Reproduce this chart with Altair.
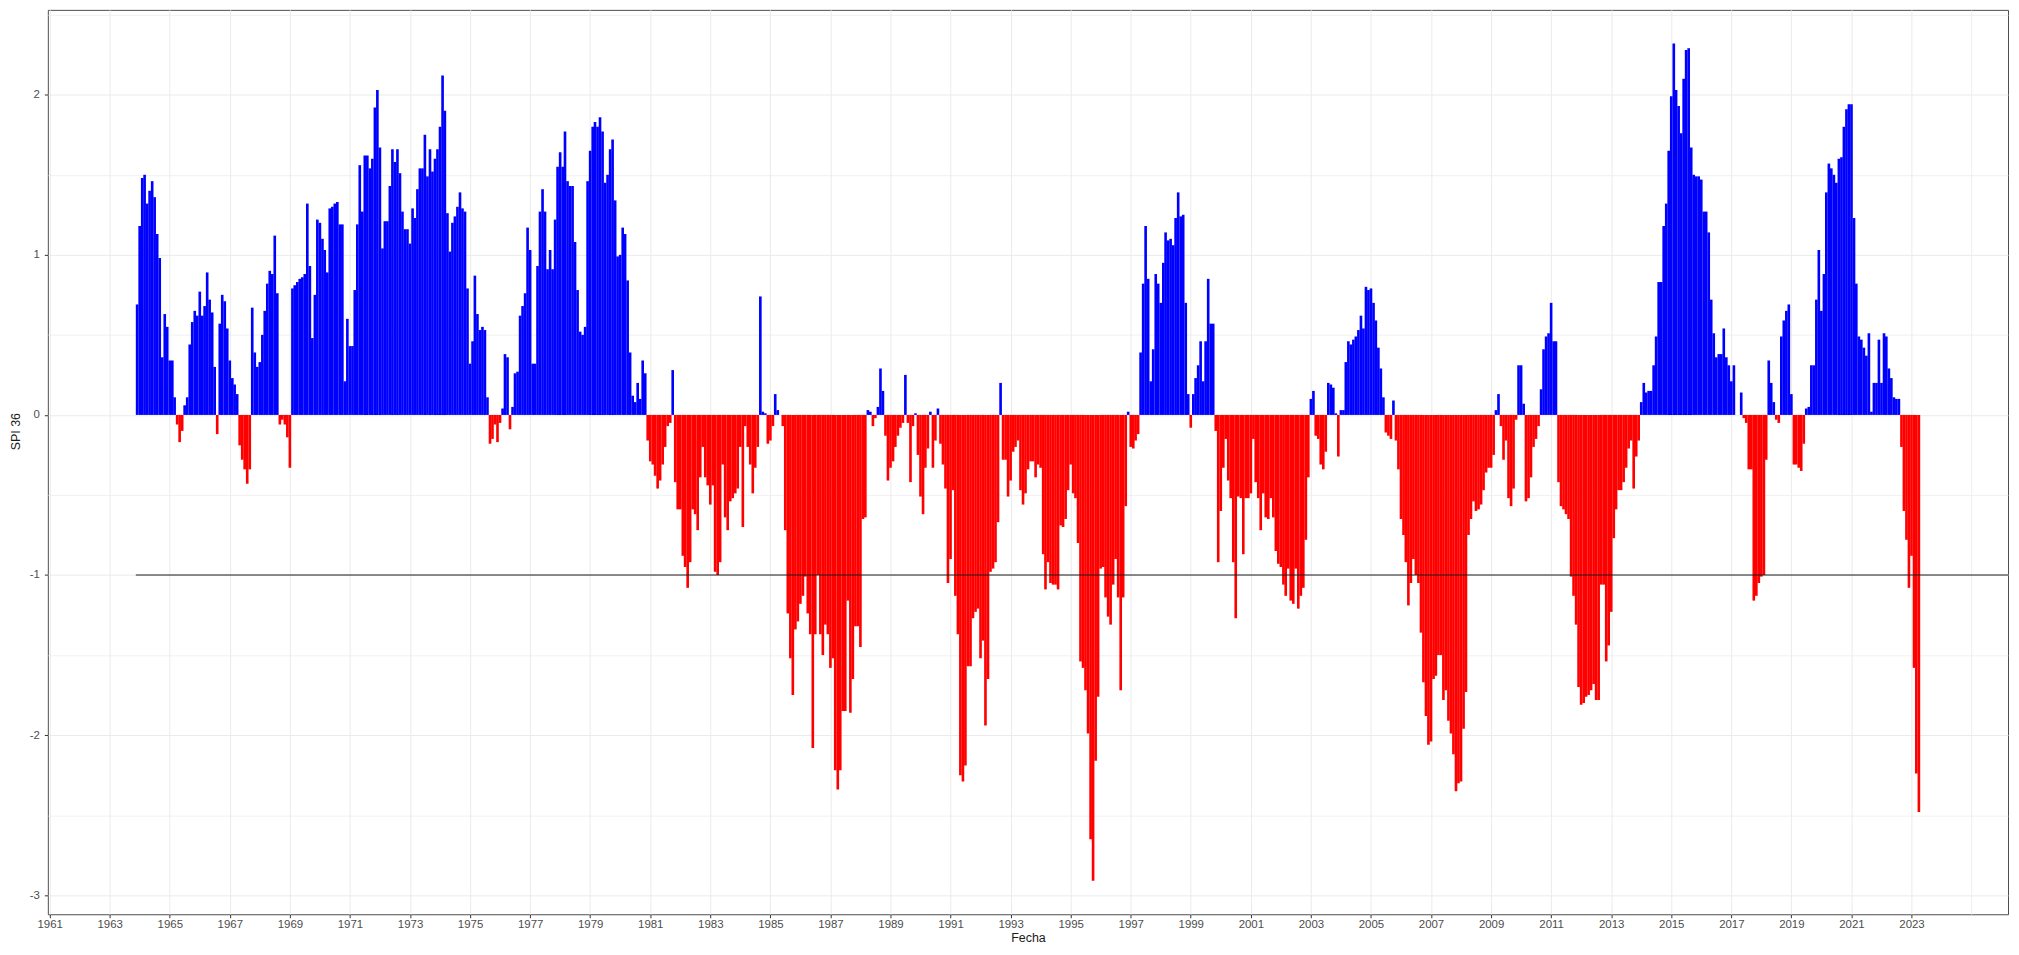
import altair as alt
import pandas as pd

# SPI-36 monthly values (Dec 1963 .. Apr 2023)
spi_1960s = [
    0.69,
    1.18, 1.48, 1.50, 1.32, 1.40, 1.46, 1.36, 1.13, 0.98, 0.36, 0.63, 0.55,
    0.34, 0.34, 0.11, -0.06, -0.17, -0.10, 0.06, 0.11, 0.44, 0.58, 0.65, 0.62,
    0.77, 0.62, 0.68, 0.89, 0.72, 0.64, 0.30, -0.12, 0.57, 0.75, 0.71, 0.54,
    0.34, 0.23, 0.19, 0.13, -0.19, -0.28, -0.34, -0.43, -0.34, 0.67, 0.39, 0.30,
    0.33, 0.50, 0.65, 0.82, 0.90, 0.88, 1.12, 0.76, -0.06, -0.03, -0.06, -0.14,
    -0.33, 0.79, 0.81, 0.83, 0.85, 0.86, 0.88, 1.32, 0.93, 0.48, 0.75, 1.22,
]
spi_1970s = [
    1.20, 1.10, 1.03, 0.89, 1.29, 1.30, 1.32, 1.33, 1.19, 1.19, 0.21, 0.60,
    0.43, 0.43, 0.78, 1.19, 1.56, 1.27, 1.62, 1.62, 1.54, 1.60, 1.92, 2.03,
    1.67, 1.04, 1.21, 1.21, 1.43, 1.66, 1.58, 1.66, 1.51, 1.27, 1.16, 1.16,
    1.07, 1.29, 1.23, 1.41, 1.54, 1.54, 1.75, 1.49, 1.66, 1.52, 1.60, 1.66,
    1.80, 2.12, 1.90, 1.26, 1.02, 1.20, 1.24, 1.30, 1.39, 1.29, 1.27, 0.79,
    0.32, 0.46, 0.87, 0.63, 0.53, 0.55, 0.53, 0.11, -0.18, -0.15, -0.06, -0.17,
    -0.05, 0.04, 0.38, 0.36, -0.09, 0.05, 0.26, 0.27, 0.62, 0.68, 0.76, 1.17,
    1.03, 0.32, 0.32, 0.93, 1.27, 1.41, 1.27, 0.91, 1.03, 0.91, 1.22, 1.55,
    1.64, 1.55, 1.77, 1.46, 1.43, 1.43, 1.08, 0.78, 0.52, 0.50, 0.55, 1.46,
    1.65, 1.80, 1.83, 1.80, 1.86, 1.77, 1.45, 1.50, 1.66, 1.72, 1.34, 0.99,
]
spi_1980s = [
    1.00, 1.17, 1.13, 0.84, 0.39, 0.12, 0.08, 0.20, 0.10, 0.34, 0.26, -0.16,
    -0.29, -0.31, -0.38, -0.46, -0.41, -0.31, -0.20, -0.07, -0.05, 0.28, -0.42, -0.59,
    -0.59, -0.88, -0.95, -1.08, -0.92, -0.59, -0.62, -0.72, -0.39, -0.20, -0.39, -0.44,
    -0.56, -0.44, -0.98, -1.00, -0.92, -0.31, -0.64, -0.72, -0.54, -0.52, -0.49, -0.46,
    -0.20, -0.70, -0.07, -0.20, -0.31, -0.49, -0.33, -0.20, 0.74, 0.02, 0.01, -0.18,
    -0.16, -0.07, 0.13, 0.03, 0.00, -0.07, -0.72, -1.24, -1.52, -1.75, -1.34, -1.29,
    -1.18, -1.13, -1.01, -1.24, -1.37, -2.08, -1.37, -1.00, -1.37, -1.50, -1.31, -1.37,
    -1.58, -1.52, -2.22, -2.34, -2.22, -1.85, -1.85, -1.16, -1.86, -1.65, -1.32, -1.32,
    -1.45, -0.65, -0.64, 0.03, 0.02, -0.07, -0.02, 0.05, 0.29, 0.15, -0.13, -0.41,
    -0.33, -0.29, -0.20, -0.13, -0.08, -0.05, 0.25, -0.05, -0.42, -0.07, 0.01, -0.25,
]
spi_1990s = [
    -0.51, -0.62, -0.33, -0.21, 0.02, -0.33, -0.16, 0.04, -0.18, -0.31, -0.46, -1.05,
    -0.90, -0.47, -1.13, -1.37, -2.25, -2.29, -2.19, -1.57, -1.57, -1.27, -1.23, -1.21,
    -1.52, -1.41, -1.94, -1.65, -0.98, -0.96, -0.92, -0.67, 0.20, -0.28, -0.28, -0.51,
    -0.41, -0.23, -0.20, -0.16, -0.47, -0.56, -0.49, -0.34, -0.29, -0.29, -0.39, -0.31,
    -0.33, -0.87, -1.09, -0.92, -1.05, -1.06, -1.06, -1.09, -0.69, -0.70, -0.65, -0.47,
    -0.31, -0.49, -0.52, -0.80, -1.54, -1.58, -1.72, -1.99, -2.65, -2.91, -2.16, -1.76,
    -0.96, -0.95, -1.14, -1.26, -1.31, -1.06, -0.90, -1.14, -1.72, -1.14, -0.57, 0.02,
    -0.20, -0.21, -0.16, -0.12, 0.39, 0.82, 1.18, 0.85, 0.21, 0.41, 0.88, 0.82,
    0.70, 0.95, 1.14, 1.09, 1.10, 1.06, 1.23, 1.39, 1.24, 1.25, 0.70, 0.13,
    -0.08, 0.13, 0.23, 0.31, 0.46, 0.21, 0.46, 0.85, 0.57, 0.57, -0.10, -0.92,
]
spi_2000s = [
    -0.60, -0.33, -0.15, -0.41, -0.52, -0.92, -1.27, -0.51, -0.52, -0.87, -0.52, -0.52,
    -0.49, -0.15, -0.42, -0.52, -0.72, -0.49, -0.64, -0.65, -0.52, -0.64, -0.85, -0.93,
    -0.95, -1.06, -1.13, -0.96, -1.16, -1.18, -0.96, -1.21, -1.13, -1.08, -0.78, -0.39,
    0.10, 0.15, -0.13, -0.15, -0.31, -0.34, -0.23, 0.20, 0.19, 0.17, 0.01, -0.26,
    0.03, 0.03, 0.33, 0.46, 0.44, 0.47, 0.49, 0.53, 0.62, 0.54, 0.80, 0.78,
    0.79, 0.70, 0.59, 0.42, 0.29, 0.11, -0.11, -0.13, -0.15, 0.09, -0.16, -0.34,
    -0.65, -0.75, -0.92, -1.19, -1.05, -0.90, -1.00, -1.05, -1.36, -1.67, -1.88, -2.06,
    -2.04, -1.65, -1.63, -1.50, -1.50, -1.78, -1.72, -1.91, -1.99, -2.12, -2.35, -2.30,
    -2.29, -1.96, -1.73, -0.75, -0.65, -0.54, -0.60, -0.59, -0.56, -0.47, -0.36, -0.33,
    -0.33, -0.25, 0.03, 0.13, -0.07, -0.28, -0.16, -0.52, -0.57, -0.46, -0.03, 0.31,
]
spi_2010s = [
    0.31, 0.07, -0.54, -0.52, -0.39, -0.20, -0.15, -0.07, 0.16, 0.41, 0.49, 0.51,
    0.70, 0.46, 0.46, -0.42, -0.57, -0.59, -0.62, -0.65, -1.01, -1.13, -1.31, -1.70,
    -1.81, -1.80, -1.76, -1.75, -1.72, -1.68, -1.78, -1.78, -1.06, -1.06, -1.54, -1.44,
    -1.23, -0.77, -0.59, -0.47, -0.47, -0.42, -0.33, -0.21, -0.16, -0.46, -0.26, -0.16,
    0.08, 0.20, 0.14, 0.15, 0.15, 0.31, 0.49, 0.83, 0.83, 1.18, 1.32, 1.65,
    1.99, 2.32, 2.03, 1.93, 1.76, 2.10, 2.28, 2.29, 1.67, 1.50, 1.49, 1.49,
    1.47, 1.27, 1.27, 1.14, 0.72, 0.51, 0.36, 0.38, 0.38, 0.54, 0.36, 0.31,
    0.21, 0.31, 0.00, 0.00, 0.14, -0.02, -0.05, -0.34, -0.34, -1.16, -1.13, -1.05,
    -1.01, -1.00, -0.28, 0.34, 0.20, 0.08, -0.03, -0.05, 0.49, 0.59, 0.65, 0.69,
    0.13, -0.31, -0.31, -0.33, -0.35, -0.18, 0.04, 0.05, 0.31, 0.31, 0.72, 1.03,
]
spi_2020s = [
    0.65, 0.88, 1.39, 1.57, 1.54, 1.50, 1.45, 1.60, 1.61, 1.80, 1.91, 1.94,
    1.94, 1.23, 0.82, 0.49, 0.47, 0.42, 0.37, 0.51, 0.02, 0.20, 0.20, 0.47,
    0.20, 0.51, 0.49, 0.29, 0.23, 0.11, 0.10, 0.10, -0.20, -0.60, -0.78, -1.08,
    -0.88, -1.58, -2.24, -2.48,
]

first_month = "1963-12-01"
threshold = -1.0
grid_years = list(range(1961, 2027))        # one grid line per year
label_years_last = 2023                     # labelled (odd) years stop here
y_ticks = [-3.0, -2.5, -2.0, -1.5, -1.0, -0.5, 0.0, 0.5, 1.0, 1.5, 2.0, 2.5]

spi = spi_1960s + spi_1970s + spi_1980s + spi_1990s + spi_2000s + spi_2010s + spi_2020s
fechas = pd.date_range(first_month, periods=len(spi), freq="MS")
df = pd.DataFrame({
    "fecha": fechas,
    "inicio": fechas - pd.Timedelta(days=16),
    "fin": fechas + pd.Timedelta(days=16),
    "spi": spi,
})
df["signo"] = ["pos" if v >= 0 else "neg" for v in spi]

linea = pd.DataFrame({
    "inicio": [df["inicio"].min()],
    "fin": [pd.Timestamp("2026-03-20")],
    "nivel": [threshold],
})

x_scale = alt.Scale(domain=[alt.DateTime(year=1960, month=12, date=10),
                            alt.DateTime(year=2026, month=3, date=20)])
y_scale = alt.Scale(domain=[-3.119, 2.53], nice=False, zero=False)

major_x = f"(year(datum.value) % 2 == 1) && (year(datum.value) <= {label_years_last})"
major_y = "datum.value % 1 == 0"

x_axis = alt.Axis(
    values=[alt.DateTime(year=y, month=1, date=1) for y in grid_years],
    labelExpr=f"{major_x} ? timeFormat(datum.value, '%Y') : ''",
    tickOpacity={"condition": {"test": major_x, "value": 1}, "value": 0},
    gridOpacity={"condition": {"test": major_x, "value": 1}, "value": 0.75},
    labelOverlap=False, labelFlush=False, labelPadding=1,
    title="Fecha", titleY=27.8, titleBaseline="alphabetic", titleAnchor="middle",
)
y_axis = alt.Axis(
    values=y_ticks,
    labelExpr=f"{major_y} ? '' + datum.value : ''",
    tickOpacity={"condition": {"test": major_y, "value": 1}, "value": 0},
    gridOpacity={"condition": {"test": major_y, "value": 1}, "value": 0.75},
    labelOverlap=False, labelFlush=False, labelPadding=5,
    title="SPI 36", titleX=-32, titleY=423, titleAngle=-90,
    titleBaseline="middle", titleAlign="center",
)

bars = alt.Chart(df).mark_bar(stroke=None).encode(
    x=alt.X("inicio:T", scale=x_scale, axis=x_axis),
    x2="fin:T",
    y=alt.Y("spi:Q", scale=y_scale, axis=y_axis),
    y2=alt.datum(0),
    color=alt.Color("signo:N",
                    scale=alt.Scale(domain=["pos", "neg"], range=["#0000FF", "#FF0000"]),
                    legend=None),
)

rule = alt.Chart(linea).mark_rule(color="#1a1a1a", strokeWidth=1).encode(
    x="inicio:T",
    x2="fin:T",
    y=alt.Y("nivel:Q"),
)

chart = alt.layer(bars, rule).properties(
    width=1968, height=908,
    padding={"left": 40, "top": 0, "right": 3, "bottom": 31},
    autosize=alt.AutoSizeParams(type="none"),
    background="white",
).configure_view(
    stroke="#4D4D4D", strokeWidth=1,
).configure_axis(
    domain=False,
    grid=True,
    gridColor="#EBEBEB",
    gridWidth=1,
    tickColor="#333333",
    tickSize=3.5,
    labelFont="Liberation Sans Narrow, Liberation Sans, Arial",
    labelFontSize=11.5,
    labelColor="#4D4D4D",
    titleFont="Liberation Sans, Arial",
    titleFontSize=12.5,
    titleFontWeight="normal",
    titleColor="#1a1a1a",
)

chart.save("out.html", embed_options={"renderer": "svg", "actions": False})
